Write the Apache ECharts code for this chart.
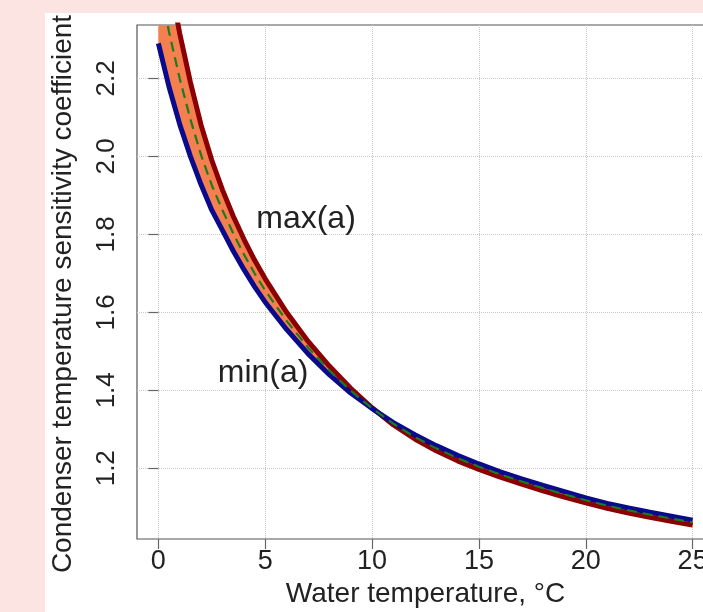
<!DOCTYPE html>
<html>
<head>
<meta charset="utf-8">
<script src="https://cdn.jsdelivr.net/npm/echarts@6/dist/echarts.min.js"></script>
<style>
html,body{margin:0;padding:0;background:#fbe4e1;}
#chart{width:703px;height:612px;}
</style>
</head>
<body>
<div id="chart"></div>
<script>
// Water temperature, °C
const temps = [0, 0.5, 1, 1.5, 2, 2.5, 3, 3.5, 4, 4.5, 5, 6, 7, 8, 9, 10, 11, 12, 13, 14, 15, 16, 17, 18, 19, 20, 21, 22, 23, 24, 25];
// min(a) curve (blue)
const minA = [2.290, 2.178, 2.082, 2.000, 1.927, 1.862, 1.810, 1.758, 1.710, 1.666, 1.626, 1.556, 1.494, 1.440, 1.393, 1.353, 1.317, 1.286, 1.258, 1.233, 1.211, 1.191, 1.173, 1.156, 1.140, 1.124, 1.110, 1.098, 1.087, 1.077, 1.067];
// max(a) curve (dark red)
const maxA = [2.620, 2.460, 2.315, 2.190, 2.080, 1.990, 1.914, 1.847, 1.788, 1.734, 1.686, 1.600, 1.526, 1.462, 1.405, 1.355, 1.311, 1.275, 1.245, 1.219, 1.197, 1.177, 1.159, 1.142, 1.126, 1.111, 1.097, 1.085, 1.074, 1.064, 1.054];
// middle curve (green dashed)
const midA = [2.455, 2.319, 2.199, 2.095, 2.003, 1.926, 1.862, 1.803, 1.749, 1.700, 1.656, 1.578, 1.510, 1.451, 1.399, 1.354, 1.314, 1.280, 1.251, 1.226, 1.204, 1.184, 1.166, 1.149, 1.133, 1.118, 1.104, 1.092, 1.081, 1.071, 1.061];
// tick labels
const xTicks = [0, 5, 10, 15, 20, 25];
const yTicks = [1.2, 1.4, 1.6, 1.8, 2.0, 2.2];
const xTitle = 'Water temperature, °C';
const yTitle = 'Condenser temperature sensitivity coefficient';
const labelMax = 'max(a)';
const labelMin = 'min(a)';

const FONT = '"Liberation Sans", Arial, sans-serif';
const chart = echarts.init(document.getElementById('chart'), null, {renderer: 'canvas'});

const pairs = (ys) => temps.map((t, i) => [t, ys[i]]);

const option = {
  backgroundColor: '#fbe4e1',
  animation: false,
  graphic: {
    elements: [{
      type: 'rect', z: -100, silent: true,
      shape: {x: 45, y: 13, width: 660, height: 600},
      style: {fill: '#ffffff'}
    }]
  },
  grid: {
    left: 137, top: 25, right: -11, bottom: 73,
    outerBoundsMode: 'none', containLabel: false,
    show: true, borderColor: '#555', borderWidth: 1.2, backgroundColor: 'transparent'
  },
  xAxis: {
    type: 'value', min: -1, max: 26,
    name: xTitle, nameLocation: 'middle', nameGap: 37,
    nameTextStyle: {fontFamily: FONT, fontSize: 28, color: '#222'},
    axisLine: {show: false},
    axisTick: {show: true, length: 10, customValues: xTicks, lineStyle: {color: '#666', width: 1.2}},
    axisLabel: {customValues: xTicks, fontFamily: FONT, fontSize: 27, color: '#222', margin: 9},
    splitLine: {show: true, lineStyle: {color: '#c8c8c8', type: 'dotted', width: 1}}
  },
  yAxis: {
    type: 'value', min: 1.0185, max: 2.337,
    name: yTitle, nameLocation: 'middle', nameGap: 60, nameRotate: 90,
    nameTextStyle: {fontFamily: FONT, fontSize: 28, color: '#222', padding: [0, 24, 0, 0]},
    axisLine: {show: false},
    axisTick: {show: true, length: 10, customValues: yTicks, lineStyle: {color: '#666', width: 1.2}},
    axisLabel: {customValues: yTicks, rotate: 90, fontFamily: FONT, fontSize: 26, color: '#222', margin: 17,
      formatter: v => v.toFixed(1)},
    splitLine: {show: true, lineStyle: {color: '#c8c8c8', type: 'dotted', width: 1}}
  },
  series: [
    {
      type: 'custom', coordinateSystem: 'cartesian2d', clip: true, silent: true, z: 2,
      data: [0],
      renderItem: function (params, api) {
        const pts = [];
        for (let i = 0; i < temps.length; i++) pts.push(api.coord([temps[i], maxA[i]]));
        for (let i = temps.length - 1; i >= 0; i--) pts.push(api.coord([temps[i], minA[i]]));
        return {type: 'polygon', shape: {points: pts}, style: {fill: '#f5804f'}};
      }
    },
    {
      name: 'max(a)', type: 'line', data: pairs(maxA), showSymbol: false, z: 3,
      lineStyle: {color: '#8b0000', width: 5}
    },
    {
      name: 'min(a)', type: 'line', data: pairs(minA), showSymbol: false, z: 4,
      lineStyle: {color: '#0a0a8c', width: 5}
    },
    {
      name: 'mid', type: 'line', data: pairs(midA), showSymbol: false, z: 5,
      lineStyle: {color: '#1e7a1e', width: 2.2, type: [10, 6]},
      markPoint: {
        silent: true, symbol: 'circle', symbolSize: 0,
        label: {show: true, position: 'inside', fontFamily: FONT, fontSize: 32, color: '#222'},
        data: [
          {coord: [6.91, 1.84], label: {formatter: labelMax}},
          {coord: [4.90, 1.443], label: {formatter: labelMin}}
        ]
      }
    }
  ]
};
chart.setOption(option);
</script>
</body>
</html>
